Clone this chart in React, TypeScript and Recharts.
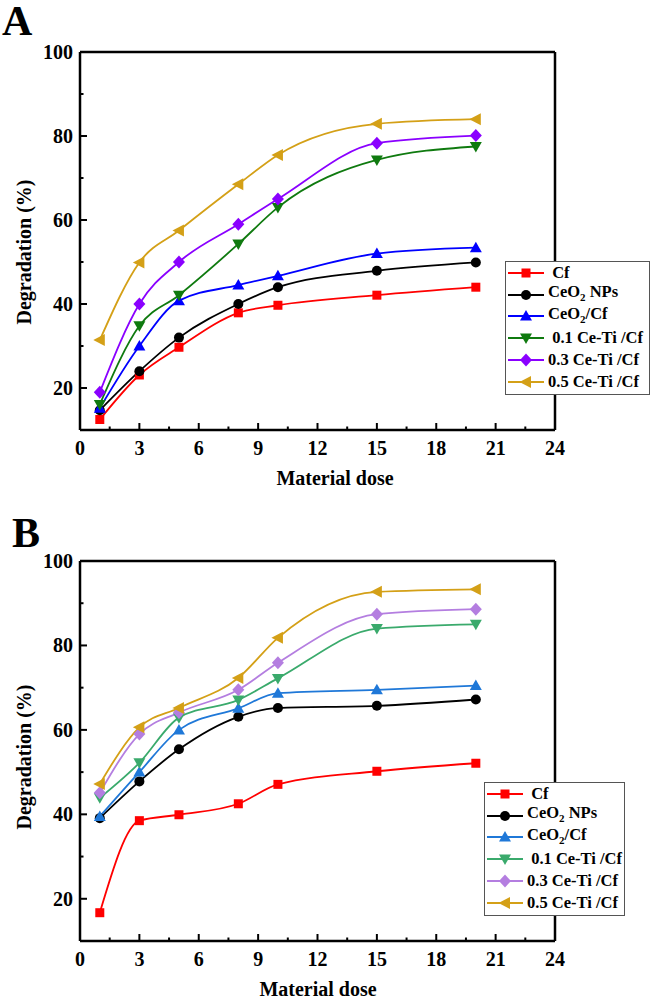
import React from 'react';
import { LineChart, Line, XAxis, YAxis, ReferenceLine } from 'recharts';

// material dose (x)
const doses = [1, 3, 5, 8, 10, 15, 20];

// panel A
const cfA = [12.5, 23.1, 29.7, 37.9, 39.7, 42.1, 44.0];
const ceo2NpsA = [14.7, 24.0, 32.0, 40.0, 44.0, 47.9, 49.9];
const ceo2CfA = [15.2, 30.0, 40.8, 44.5, 46.7, 52.0, 53.4];
const ceTi01A = [16.1, 34.8, 42.1, 54.3, 63.0, 74.3, 77.5];
const ceTi03A = [19.0, 40.0, 50.0, 59.0, 65.0, 78.3, 80.1];
const ceTi05A = [31.4, 49.9, 57.5, 68.5, 75.5, 82.9, 84.0];

// panel B
const cfB = [16.7, 38.5, 39.9, 42.5, 47.1, 50.2, 52.1];
const ceo2NpsB = [39.1, 47.8, 55.4, 63.1, 65.2, 65.7, 67.2];
const ceo2CfB = [39.5, 50.0, 60.0, 65.1, 68.7, 69.5, 70.5];
const ceTi01B = [43.9, 52.2, 62.9, 67.1, 72.2, 84.0, 85.0];
const ceTi03B = [45.1, 59.0, 64.1, 69.5, 75.9, 87.4, 88.6];
const ceTi05B = [47.2, 60.6, 65.2, 72.3, 81.8, 92.7, 93.3];

const seriesKeys = ['cf', 'nps', 'ceo2cf', 't01', 't03', 't05'];
const seriesShapes = ['square', 'circle', 'up', 'down', 'diamond', 'left'];
const colorsA = ['#ff0000', '#000000', '#0000ff', '#0f7a0f', '#8a00ff', '#d4a017'];
const colorsB = ['#ff0000', '#000000', '#1f78d8', '#3aaa6c', '#b47ee0', '#d4a017'];

const xTicks = [0, 1.5, 3, 4.5, 6, 7.5, 9, 10.5, 12, 13.5, 15, 16.5, 18, 19.5, 21, 22.5, 24];
const yTicks = [20, 30, 40, 50, 60, 70, 80, 90, 100];

const FONT = "'Times New Roman', 'Liberation Serif', serif";

const legendLabels: React.ReactNode[] = [
  '\u00a0Cf',
  <>CeO<sub style={{ fontSize: 11 }}>2</sub> NPs</>,
  <>CeO<sub style={{ fontSize: 11 }}>2</sub>/Cf</>,
  '\u00a00.1 Ce-Ti /Cf',
  '0.3 Ce-Ti /Cf',
  '0.5 Ce-Ti /Cf',
];

const Mark = ({ cx, cy, shape, color }: any) => {
  if (cx == null || cy == null) return null;
  switch (shape) {
    case 'square':
      return <rect x={cx - 4.5} y={cy - 4.5} width={9} height={9} fill={color} />;
    case 'circle':
      return <circle cx={cx} cy={cy} r={5} fill={color} />;
    case 'up':
      return <polygon points={`${cx},${cy - 6} ${cx + 6},${cy + 4.5} ${cx - 6},${cy + 4.5}`} fill={color} />;
    case 'down':
      return <polygon points={`${cx},${cy + 6} ${cx + 6},${cy - 4.5} ${cx - 6},${cy - 4.5}`} fill={color} />;
    case 'diamond':
      return <polygon points={`${cx},${cy - 6.5} ${cx + 6},${cy} ${cx},${cy + 6.5} ${cx - 6},${cy}`} fill={color} />;
    default:
      return <polygon points={`${cx - 6.5},${cy} ${cx + 5},${cy - 6} ${cx + 5},${cy + 6}`} fill={color} />;
  }
};

const XTick = ({ x, y, payload }: any) => {
  const v = payload.value;
  const major = v % 3 === 0;
  return (
    <g>
      <line x1={x} x2={x} y1={y} y2={y - (major ? 7 : 3.5)} stroke="#000" strokeWidth={2} />
      {major && (
        <text x={x} y={y + 25} textAnchor="middle" fontSize={20} fontWeight="bold" fontFamily={FONT} fill="#000">
          {v}
        </text>
      )}
    </g>
  );
};

const YTick = ({ x, y, payload }: any) => {
  const v = payload.value;
  const major = v % 20 === 0;
  return (
    <g>
      <line x1={x} x2={x + (major ? 7 : 3.5)} y1={y} y2={y} stroke="#000" strokeWidth={2} />
      {major && (
        <text x={x - 7} y={y + 7} textAnchor="end" fontSize={20} fontWeight="bold" fontFamily={FONT} fill="#000">
          {v}
        </text>
      )}
    </g>
  );
};

const LegendBox = ({ colors, x, y, w }: any) => (
  <div
    style={{
      position: 'absolute',
      left: x,
      top: y,
      width: w,
      boxSizing: 'border-box',
      border: '1px solid #555',
      background: '#fff',
      padding: '0 0 1px 0',
      fontFamily: FONT,
      fontWeight: 'bold',
      fontSize: 16.5,
    }}
  >
    {legendLabels.map((lab, i) => (
      <div key={i} style={{ display: 'flex', alignItems: 'center', height: 21.8 }}>
        <svg width={42} height={20} style={{ flex: 'none' }}>
          <line x1={2} x2={38} y1={10} y2={10} stroke={colors[i]} strokeWidth={2} />
          <Mark cx={20} cy={10} shape={seriesShapes[i]} color={colors[i]} />
        </svg>
        <span style={{ whiteSpace: 'nowrap', lineHeight: '18px' }}>{lab}</span>
      </div>
    ))}
  </div>
);

const Panel = ({ letter, top, height, series, colors, legendPos, xLabelX, yLabelY }: any) => {
  const data = doses.map((d, i) => {
    const row: any = { dose: d };
    seriesKeys.forEach((k, j) => (row[k] = series[j][i]));
    return row;
  });
  const plotBottom = height - 60;
  return (
    <div style={{ position: 'absolute', left: 0, top, width: 650, height }}>
      <LineChart width={650} height={height} data={data} margin={{ top: 52, right: 95, left: 20, bottom: 0 }}>
        <XAxis
          dataKey="dose"
          type="number"
          domain={[0, 24]}
          ticks={xTicks}
          interval={0}
          height={60}
          tickSize={0}
          tickMargin={0}
          tickLine={false}
          tick={<XTick />}
          axisLine={{ stroke: '#000', strokeWidth: 2.5 }}
        />
        <YAxis
          type="number"
          domain={[10, 100]}
          ticks={yTicks}
          interval={0}
          width={60}
          tickSize={0}
          tickMargin={0}
          tickLine={false}
          tick={<YTick />}
          axisLine={{ stroke: '#000', strokeWidth: 2.5 }}
        />
        <ReferenceLine y={100} stroke="#000" strokeWidth={2.5} />
        <ReferenceLine x={24} stroke="#000" strokeWidth={2.5} />
        {seriesKeys.map((k, j) => (
          <Line
            key={k}
            dataKey={k}
            type="monotone"
            stroke={colors[j]}
            strokeWidth={1.8}
            isAnimationActive={false}
            dot={(p: any) => <Mark key={`${k}-${p.index}`} cx={p.cx} cy={p.cy} shape={seriesShapes[j]} color={colors[j]} />}
            activeDot={false}
          />
        ))}
      </LineChart>
      <LegendBox colors={colors} x={legendPos.x} y={legendPos.y} w={legendPos.w} />
      <div style={{ position: 'absolute', left: letter === 'A' ? 2 : 12, top: letter === 'A' ? -4 : -1, fontFamily: FONT, fontWeight: 'bold', fontSize: 42, lineHeight: '50px' }}>
        {letter}
      </div>
      <div
        style={{
          position: 'absolute',
          left: 24,
          top: yLabelY,
          transform: 'translate(-50%, -50%) rotate(-90deg)',
          fontFamily: FONT,
          fontWeight: 'bold',
          fontSize: 20,
          whiteSpace: 'nowrap',
        }}
      >
        Degradation (%)
      </div>
      <div
        style={{
          position: 'absolute',
          left: xLabelX,
          top: plotBottom + 48,
          transform: 'translate(-50%, -50%)',
          fontFamily: FONT,
          fontWeight: 'bold',
          fontSize: 20,
          whiteSpace: 'nowrap',
        }}
      >
        Material dose
      </div>
    </div>
  );
};

export default function App() {
  return (
    <div style={{ position: 'absolute', left: 0, top: 0, width: 650, height: 1001, background: '#fff' }}>
      <Panel
        letter="A"
        top={0}
        height={490}
        series={[cfA, ceo2NpsA, ceo2CfA, ceTi01A, ceTi03A, ceTi05A]}
        colors={colorsA}
        legendPos={{ x: 505, y: 261, w: 145 }}
        xLabelX={335}
        yLabelY={252}
      />
      <Panel
        letter="B"
        top={509}
        height={492}
        series={[cfB, ceo2NpsB, ceo2CfB, ceTi01B, ceTi03B, ceTi05B]}
        colors={colorsB}
        legendPos={{ x: 484, y: 273, w: 141 }}
        xLabelX={318}
        yLabelY={248}
      />
    </div>
  );
}
